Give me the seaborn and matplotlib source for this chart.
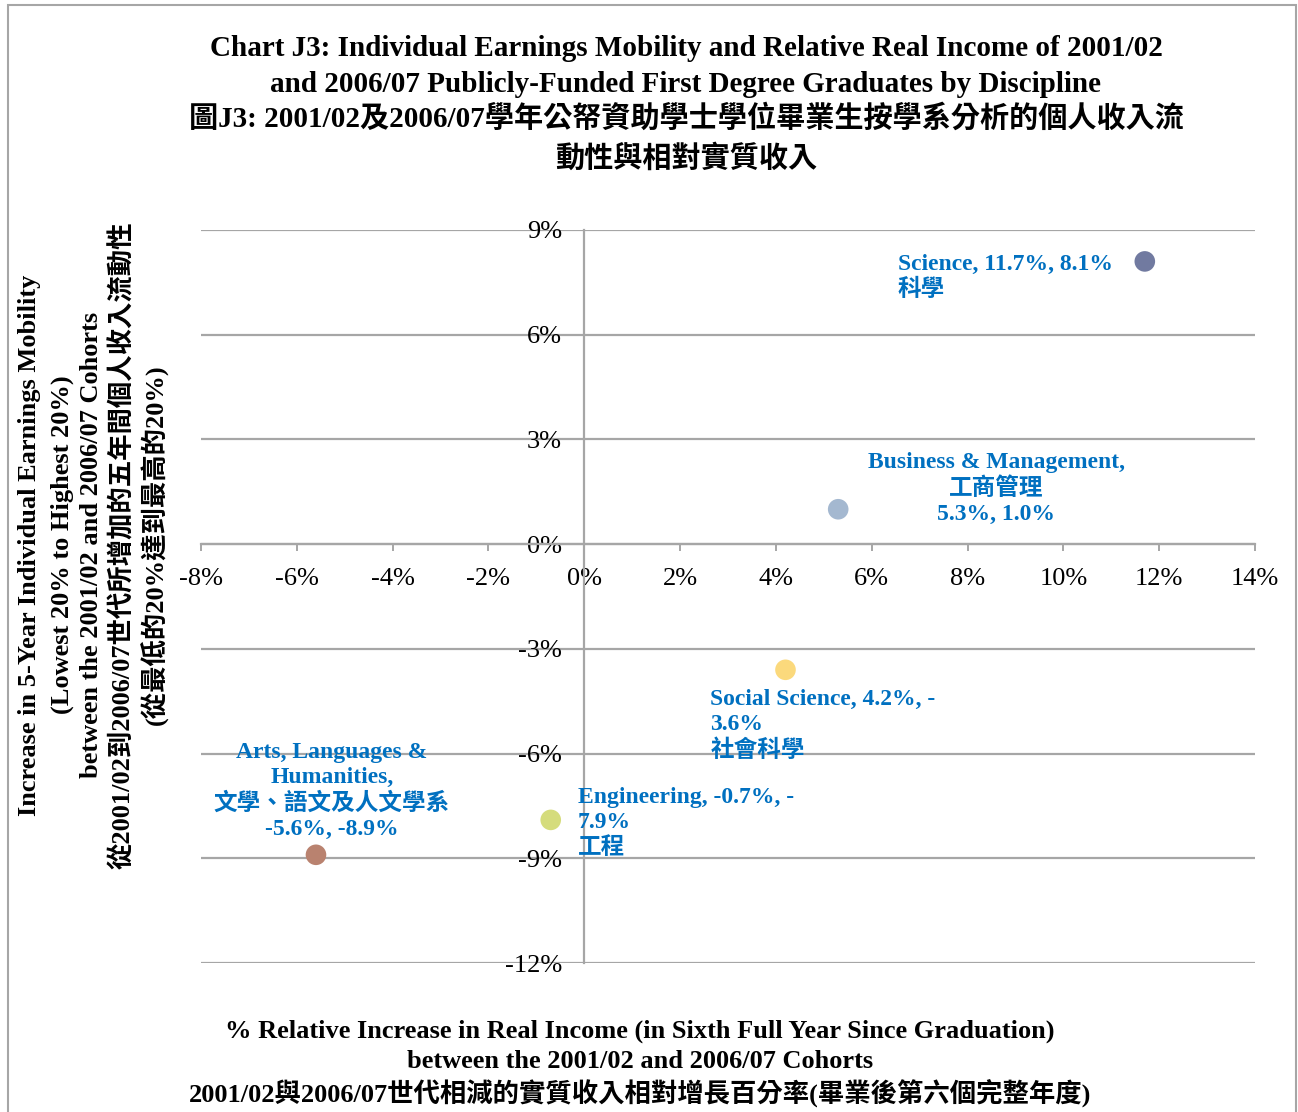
import matplotlib
matplotlib.use("Agg")
import matplotlib.pyplot as plt
import seaborn as sns
import pandas as pd
from matplotlib.patches import Rectangle
from matplotlib.ticker import FuncFormatter

# ---- data ----
disciplines = ["Science", "Business & Management", "Social Science", "Engineering",
               "Arts, Languages & Humanities"]
income_increase = [11.7, 5.3, 4.2, -0.7, -5.6]       # x, %
mobility_increase = [8.1, 1.0, -3.6, -7.9, -8.9]     # y, %
point_colors = ["#717AA0", "#A4B8D0", "#FBD97C", "#D5DC7C", "#B9826F"]
point_labels = [
    "Science, 11.7%, 8.1%\n科學",
    "Business & Management,\n工商管理\n5.3%, 1.0%",
    "Social Science, 4.2%, -\n3.6%\n社會科學",
    "Engineering, -0.7%, -\n7.9%\n工程",
    "Arts, Languages &\nHumanities,\n文學、語文及人文學系\n-5.6%, -8.9%",
]
x_ticks = list(range(-8, 15, 2))
y_ticks = list(range(-12, 10, 3))

title_lines = [
    "Chart J3: Individual Earnings Mobility and Relative Real Income of 2001/02",
    "and 2006/07 Publicly-Funded First Degree Graduates by Discipline",
    "圖J3: 2001/02及2006/07學年公帑資助學士學位畢業生按學系分析的個人收入流",
    "動性與相對實質收入",
]
y_label_lines = [
    "Increase in 5-Year Individual Earnings Mobility",
    "(Lowest 20% to Highest 20%)",
    "between the 2001/02 and 2006/07 Cohorts",
    "從2001/02到2006/07世代所增加的五年間個人收入流動性",
    "(從最低的20%達到最高的20%)",
]
x_label_lines = [
    "% Relative Increase in Real Income (in Sixth Full Year Since Graduation)",
    "between the 2001/02 and 2006/07 Cohorts",
    "2001/02與2006/07世代相減的實質收入相對增長百分率(畢業後第六個完整年度)",
]

df = pd.DataFrame({"discipline": disciplines, "x": income_increase, "y": mobility_increase})

sns.set_theme(style="white")
FAM = ["Liberation Serif", "Noto Sans CJK TC"]
plt.rcParams["font.family"] = FAM
plt.rcParams["text.color"] = "black"
plt.rcParams["xtick.color"] = "black"
plt.rcParams["ytick.color"] = "black"

W, H = 1298, 1112
fig = plt.figure(figsize=(W / 100, H / 100), dpi=100)
fig.patch.set_facecolor("white")
ax = fig.add_axes([201 / W, 1 - 963 / H, (1255 - 201) / W, (963 - 230) / H])

grid_c = "#A6A6A6"
ax.set_xlim(-8, 14)
ax.set_ylim(-12, 9)
ax.set_yticks(y_ticks)
ax.set_xticks(x_ticks)
ax.grid(False)
for yv in y_ticks:
    ax.axhline(yv, color=grid_c, lw=1.6, zorder=0)

sns.scatterplot(data=df, x="x", y="y", hue="discipline",
                palette=dict(zip(disciplines, point_colors)),
                s=220, edgecolor="none", legend=False, ax=ax, zorder=3)

for sp in ["top", "right"]:
    ax.spines[sp].set_visible(False)
ax.spines["left"].set_position(("data", 0))
ax.spines["bottom"].set_position(("data", 0))
for sp in ["left", "bottom"]:
    ax.spines[sp].set_color(grid_c)
    ax.spines[sp].set_linewidth(1.6)

fmt = FuncFormatter(lambda v, p: f"{int(round(v))}%")
ax.xaxis.set_major_formatter(fmt)
ax.yaxis.set_major_formatter(fmt)
ax.tick_params(axis="x", direction="out", length=5, width=1.4, color=grid_c,
               pad=12, labelsize=19, labelcolor="black", bottom=True)
ax.tick_params(axis="y", length=0, pad=16, labelsize=19, labelcolor="black", left=True)
for lab in ax.get_xticklabels() + ax.get_yticklabels():
    lab.set_family(FAM)
ax.set_xlabel("")
ax.set_ylabel("")

# point labels (offsets in pixels)
offsets = [(-247, -16, "left", "left"), (158, 21, "center", "center"),
           (-75, -56, "left", "left"), (27, -3, "left", "left"),
           (16, 64, "center", "center")]
for xv, yv, txt, (dx, dy, ha, ma) in zip(income_increase, mobility_increase, point_labels, offsets):
    ax.annotate(txt, (xv, yv), xytext=(dx, dy), textcoords="offset pixels",
                ha=ha, va="center", multialignment=ma, color="#0070C0",
                fontsize=17, fontweight="bold", family=FAM, linespacing=1.25, zorder=4)

# titles
title_y = [49, 84, 118, 158]
for t, yy in zip(title_lines, title_y):
    fig.text(686 / W, 1 - yy / H, t, ha="center", va="center", fontsize=21,
             fontweight="bold", family=FAM)

ylab_x = [30, 62, 92, 122, 155]
for t, xx in zip(y_label_lines, ylab_x):
    fig.text(xx / W, 1 - 545 / H, t, rotation=90, ha="center", va="center",
             fontsize=19, fontweight="bold", family=FAM)

xlab_y = [1031, 1062, 1093]
for t, yy in zip(x_label_lines, xlab_y):
    fig.text(640 / W, 1 - yy / H, t, ha="center", va="center",
             fontsize=19, fontweight="bold", family=FAM)

# outer border
fig.patches.append(Rectangle((8 / W, -0.02), (1296 - 8) / W, 1.02 - 5 / H,
                             transform=fig.transFigure, fill=False,
                             edgecolor="#A6A6A6", lw=1.5))

fig.savefig("out.png", dpi=100)
